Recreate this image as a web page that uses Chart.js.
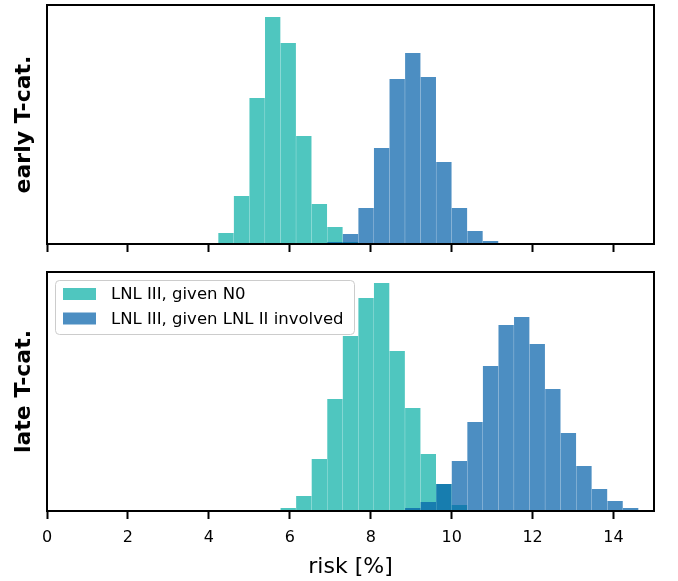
<!DOCTYPE html>
<html>
<head>
<meta charset="utf-8">
<script src="https://cdn.jsdelivr.net/npm/chart.js@4.4.0/dist/chart.umd.min.js"></script>
<style>
  html, body { margin: 0; padding: 0; background: #fff; }
  #wrap { position: relative; width: 678px; height: 581px; }
  canvas { position: absolute; left: 0; }
  #early { top: 0; }
  #late { top: 260px; }
</style>
</head>
<body>
<div id="wrap">
  <canvas id="early" width="678" height="260"></canvas>
  <canvas id="late" width="678" height="321"></canvas>
</div>
<script>
// 39 equal histogram bins over 0..15 %, centres
const binCenters = [
  0.1923, 0.5769, 0.9615, 1.3462, 1.7308, 2.1154, 2.5000, 2.8846, 3.2692, 3.6538,
  4.0385, 4.4231, 4.8077, 5.1923, 5.5769, 5.9615, 6.3462, 6.7308, 7.1154, 7.5000,
  7.8846, 8.2692, 8.6538, 9.0385, 9.4231, 9.8077, 10.1923, 10.5769, 10.9615, 11.3462,
  11.7308, 12.1154, 12.5000, 12.8846, 13.2692, 13.6538, 14.0385, 14.4231, 14.8077
];
const xTicks = [0, 2, 4, 6, 8, 10, 12, 14];
const seriesLabels = ['LNL III, given N0', 'LNL III, given LNL II involved'];

// bin heights (arbitrary units)
const earlyN0 = [
  0, 0, 0, 0, 0, 0, 0, 0, 0, 0,
  1, 11, 48, 146, 227, 201, 108, 40, 17, 2,
  0, 0, 0, 0, 0, 0, 0, 0, 0, 0,
  0, 0, 0, 0, 0, 0, 0, 0, 0
];
const earlyLNL2 = [
  0, 0, 0, 0, 0, 0, 0, 0, 0, 0,
  0, 0, 0, 0, 0, 0, 0, 0, 2, 10,
  36, 96, 165, 191, 167, 82, 36, 13, 3, 0,
  0, 0, 0, 0, 0, 0, 0, 0, 0
];
const lateN0 = [
  0, 0, 0, 0, 0, 0, 0, 0, 0, 0,
  0, 0, 0, 0, 0, 3, 15, 52, 112, 175,
  213, 228, 160, 103, 57, 27, 6, 1, 0, 0,
  0, 0, 0, 0, 0, 0, 0, 0, 0
];
const lateLNL2 = [
  0, 0, 0, 0, 0, 0, 0, 0, 0, 0,
  0, 0, 0, 0, 0, 0, 0, 0, 0, 0,
  0, 0, 0, 3, 9, 27, 50, 89, 145, 186,
  194, 167, 122, 78, 45, 22, 10, 3, 1
];

const FONT = '"DejaVu Sans", sans-serif';
const TEAL = 'rgba(4,174,164,0.7)';
const BLUE = 'rgba(0,94,168,0.7)';

/* box around the plot area */
const frame = {
  id: 'frame',
  afterDraw(chart) {
    const { ctx, chartArea: a } = chart;
    ctx.save();
    ctx.strokeStyle = '#000';
    ctx.lineWidth = 2;
    ctx.strokeRect(a.left, a.top, a.right - a.left, a.bottom - a.top);
    ctx.restore();
  }
};

/* matplotlib-like legend in the upper left corner */
const innerLegend = {
  id: 'innerLegend',
  afterDraw(chart, args, opts) {
    if (!opts.show) return;
    const { ctx, chartArea: a } = chart;
    const x = a.left + 8, y = a.top + 8, w = 299, h = 54;
    ctx.save();
    ctx.beginPath();
    ctx.roundRect(x + 0.5, y + 0.5, w, h, 4);
    ctx.fillStyle = 'rgba(255,255,255,0.8)';
    ctx.fill();
    ctx.strokeStyle = '#cccccc';
    ctx.lineWidth = 1;
    ctx.stroke();
    ctx.font = '16.5px ' + FONT;
    ctx.textBaseline = 'middle';
    chart.data.datasets.forEach((ds, i) => {
      const cy = y + 14 + i * 24.5;
      ctx.fillStyle = ds.backgroundColor;
      ctx.fillRect(x + 8, cy - 6, 33, 12);
      ctx.fillStyle = '#000';
      ctx.fillText(ds.label, x + 56, cy + 1);
    });
    ctx.restore();
  }
};

function makePanel(id, n0, lnl2, yTitle, last) {
  return new Chart(document.getElementById(id), {
    type: 'bar',
    data: {
      datasets: [
        { label: seriesLabels[0], data: binCenters.map((x, i) => ({ x, y: n0[i] })), backgroundColor: TEAL, order: 2 },
        { label: seriesLabels[1], data: binCenters.map((x, i) => ({ x, y: lnl2[i] })), backgroundColor: BLUE, order: 1 }
      ]
    },
    options: {
      responsive: false,
      animation: false,
      devicePixelRatio: 1,
      layout: { padding: { top: last ? 12 : 5, right: 24, left: 0, bottom: 0 } },
      datasets: { bar: { grouped: false, barPercentage: 0.985, categoryPercentage: 1, borderWidth: 0 } },
      plugins: {
        legend: { display: false },
        tooltip: { enabled: false },
        innerLegend: { show: last }
      },
      scales: {
        x: {
          type: 'linear', min: 0, max: 15, offset: false,
          afterBuildTicks: s => { s.ticks = xTicks.map(v => ({ value: v })); },
          afterFit: s => { s.height = last ? 70 : 16; },
          border: { display: false },
          grid: { offset: false, drawOnChartArea: false, drawTicks: true, tickLength: 8, tickWidth: 2, tickColor: '#000' },
          ticks: {
            color: '#000', padding: 9, maxRotation: 0,
            font: { family: FONT, size: 16 },
            callback: v => last ? String(v) : ''
          },
          title: {
            display: last, text: 'risk [%]', color: '#000',
            font: { family: FONT, size: 22 },
            padding: { top: 0, bottom: 1 }
          }
        },
        y: {
          min: 0, max: 239,
          afterFit: s => { s.width = 47; },
          border: { display: false },
          grid: { display: false },
          ticks: { display: false },
          title: {
            display: true, text: yTitle, color: '#000',
            font: { family: FONT, size: 22, weight: 'bold' },
            padding: { top: 11, bottom: 0 }
          }
        }
      }
    },
    plugins: [frame, innerLegend]
  });
}

makePanel('early', earlyN0, earlyLNL2, 'early T-cat.', false);
makePanel('late', lateN0, lateLNL2, 'late T-cat.', true);
</script>
</body>
</html>
